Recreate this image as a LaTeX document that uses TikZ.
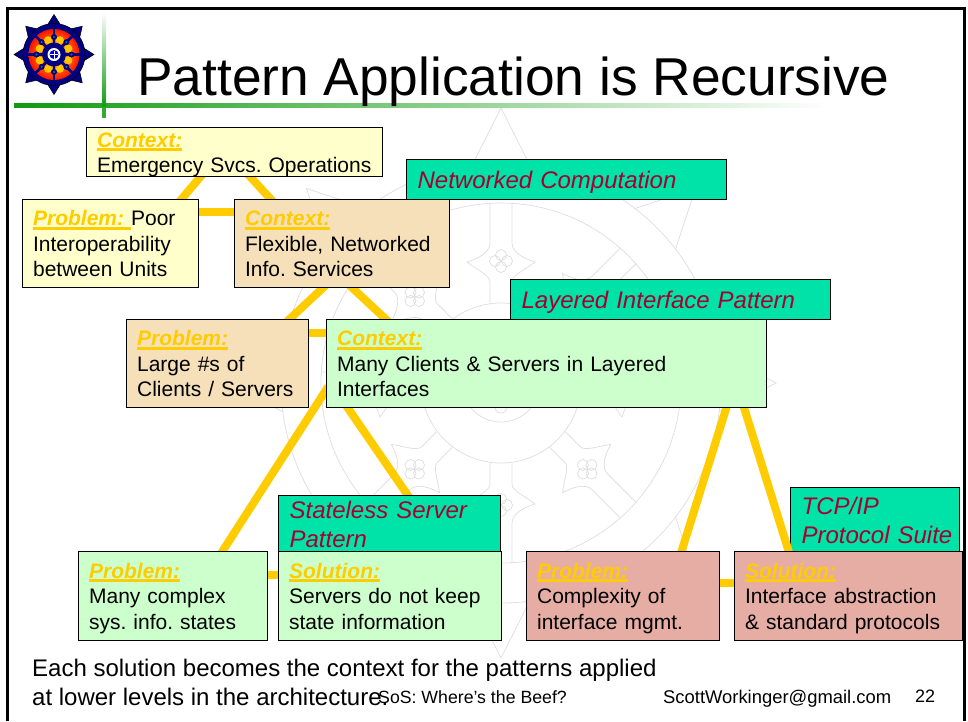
\documentclass[tikz,border=0pt]{standalone}
\usepackage{fontspec}
\setmainfont{Liberation Sans}
\usetikzlibrary{calc}
\pgfdeclarelayer{bg}
\pgfsetlayers{bg,main}
\definecolor{gold}{HTML}{FFCC00}
\definecolor{paleyellow}{HTML}{FFFFCC}
\definecolor{tan}{HTML}{F6E0B9}
\definecolor{palegreen}{HTML}{CCFFCC}
\definecolor{mint}{HTML}{00E3A8}
\definecolor{rose}{HTML}{E6ADA4}
\definecolor{crimson}{HTML}{A5002F}
\definecolor{wm}{HTML}{DEDEDE}
\definecolor{navy}{HTML}{000080}
\definecolor{bargreen}{HTML}{109A10}
\newcommand{\lab}[1]{\setbox0=\hbox{\bfseries\itshape #1}{\color{gold}\rlap{\rule[-4pt]{\wd0}{3pt}}\box0}}
\newcommand{\noflow}[1]{\leavevmode\rlap{#1}}
\tikzset{
  box/.style 2 args={draw=black,line width=1.2pt,anchor=north west,inner xsep=10.5pt,inner ysep=-2pt,
    minimum width=#1pt,minimum height=#2pt,text width={#1pt-21pt},align=left,
    font=\fontsize{21}{25.5}\selectfont\frenchspacing,
    execute at begin node={\rule{0pt}{20.5pt}},execute at end node={\rule[-4.8pt]{0pt}{4.8pt}}},
  tagbox/.style 2 args={draw=black,line width=1.2pt,fill=mint,anchor=north west,inner xsep=11pt,inner ysep=-2pt,
    minimum width=#1pt,minimum height=#2pt,text width={#1pt-22pt},align=left,text=crimson,
    font=\fontsize{24}{29}\selectfont\itshape\frenchspacing,
    execute at begin node={\rule{0pt}{24pt}},execute at end node={\rule[-5pt]{0pt}{5pt}}},
  conn/.style={draw=gold,line width=8pt,shorten <=-4pt,shorten >=-4pt},
  wmline/.style={draw=wm,line width=0.7pt},
  plain/.style={anchor=base west,inner sep=0pt},
}
\begin{document}
\begin{tikzpicture}[x=1pt,y=-1pt]
\useasboundingbox (0,0) rectangle (968,721);
\begin{pgfonlayer}{bg}
\fill[white] (0,0) rectangle (968,721);
% watermark wheel
\begin{scope}[shift={(501,383)}]
  \draw[wmline] (0,0) circle (80);
  \draw[wmline] (0,0) circle (39);
  \draw[wmline] (0,0) circle (180);
  \draw[wmline] (0,0) circle (220);
  \foreach \a in {0,45,...,315}{
    \begin{scope}[rotate=\a]
      \draw[wmline] (7.5:220) -- (275,0) -- (-7.5:220);
      \draw[wmline] (80,-11) -- (101,-11) .. controls (108,-11) and (113,-24) .. (121,-34)
        .. controls (124,-24) and (130,-11) .. (140,-11) -- (180,-11);
      \draw[wmline] (80,11) -- (101,11) .. controls (108,11) and (113,24) .. (121,34)
        .. controls (124,24) and (130,11) .. (140,11) -- (180,11);
      \foreach \dx/\dy in {6/0,-6/0,0/6,0/-6}{
        \draw[wmline] (122+\dx,\dy) circle (5.5);
      }
      \draw[wmline] (24,0) circle (6);
    \end{scope}
  }
\end{scope}
\node[tagbox={169}{64}] (tcp) at (790,487) {TCP/IP\\\noflow{Protocol Suite}};
\end{pgfonlayer}
% title bar
\shade[left color=bargreen,right color=white,shading angle=90] (14,103) rectangle (830,107);
\shade[top color=white,bottom color=bargreen] (102,12) rectangle (106,107);
\fill[bargreen!85!white] (102,107) rectangle (106,118);
% logo
\begin{scope}[shift={(54,54.5)}]
  \foreach \a in {0,45,...,315}{
    \fill[navy,draw=black,line width=0.5pt] (\a+15:29) -- (\a:40) -- (\a-15:29) -- cycle;
  }
  \fill[navy,draw=black,line width=0.5pt] (0,0) circle (31);
  \shade[inner color=yellow!80!orange,middle color=orange,outer color=red!85!orange] (0,0) circle (25.5);
  \foreach \a in {0,45,...,315}{
    \fill[gold!95!orange] (\a+22.5:15.5) circle (4);
    \draw[navy,line width=2.6pt] (\a:10) -- (\a:27);
    \fill[navy] (\a:17.5) circle (3);
    \fill[teal] (\a:17.5) circle (1.2);
  }
  \fill[navy] (0,0) circle (12);
  \fill[white] (0,0) circle (6.5);
  \fill[blue!70!navy] (0,0) circle (4.5);
  \draw[white,line width=0.6pt] (-4,0) -- (4,0) (0,-4) -- (0,4);
\end{scope}
% frame
\draw[black,line width=3pt] (7.5,721) -- (7.5,8.5) -- (964.5,8.5) -- (964.5,721);
% title
\node[plain,font=\fontsize{53.3}{60}\selectfont] (title) at (137,95) {Pattern Application is Recursive};
% pattern boxes
\node[tagbox={320}{40}] (net) at (406,159) {\raisebox{0.5pt}{Networked Computation}};
\node[tagbox={320}{40}] (lay) at (510,279) {\raisebox{0.5pt}{Layered Interface Pattern}};
\node[tagbox={222}{56}] (sta) at (278,495) {Stateless Server\\Pattern};
\node[box={296}{49},fill=paleyellow] (c1) at (86,127) {\lab{Context:}\\\noflow{Emergency Svcs. Operations}};
\node[box={176}{88},fill=paleyellow] (p1) at (22,199) {\lab{Problem:\ }Poor\\Interoperability\\between Units};
\node[box={215}{88},fill=tan] (c2) at (234,199) {\lab{Context:}\\Flexible, Networked\\Info. Services};
\node[box={182}{88},fill=tan] (p2) at (126,319) {\lab{Problem:}\\Large \#s of\\Clients / Servers};
\node[box={440}{88},fill=palegreen] (c3) at (326,319) {\lab{Context:}\\Many Clients \& Servers in Layered\\Interfaces};
\node[box={189}{89},fill=palegreen] (p3) at (78,551) {\lab{Problem:}\\Many complex\\sys. info. states};
\node[box={223}{89},fill=palegreen] (s3) at (278,551) {\lab{Solution:}\\Servers do not keep\\state information};
\node[box={193}{89},fill=rose] (p4) at (526,551) {\lab{Problem:}\\Complexity of\\interface mgmt.};
\node[box={228}{89},fill=rose] (s4) at (734,551) {\lab{Solution:}\\Interface abstraction\\\noflow{\& standard protocols}};
% connectors
\begin{pgfonlayer}{bg}
\draw[conn] ([xshift=-34.5pt]c1.south) -- ([xshift=71pt]p1.north);
\draw[conn] ([xshift=16pt]c1.south) -- ([xshift=-71.5pt]c2.north);
\draw[conn] ([yshift=-13pt]p1.north east) -- ([yshift=-13pt]c2.north west);
\draw[conn] ([xshift=-19.5pt]c2.south) -- ([xshift=72pt]p2.north);
\draw[conn] ([xshift=10.5pt]c2.south) -- ([xshift=-161pt]c3.north);
\draw[conn] ([yshift=-14pt]p2.north east) -- ([yshift=-14pt]c3.north west);
\draw[conn] ([yshift=-71pt]c3.north west) -- ([xshift=49.5pt]p3.north);
\draw[conn] ([xshift=22pt]c3.south west) -- ([xshift=18pt]sta.north);
\draw[conn] ([yshift=-24pt]p3.north east) -- ([yshift=-24pt]s3.north west);
\draw[conn] ([xshift=-41pt]c3.south east) -- ([xshift=58.5pt]p4.north);
\draw[conn] ([xshift=-23pt]c3.south east) -- ([xshift=-60pt]s4.north);
\draw[conn] ([yshift=-32pt]p4.north east) -- ([yshift=-32pt]s4.north west);
\end{pgfonlayer}
% bottom text
\node[plain,font=\fontsize{24}{29}\selectfont] (note1) at (32,676) {Each solution becomes the context for the patterns applied};
\node[plain,font=\fontsize{24}{29}\selectfont] (note2) at (32,705) {at lower levels in the architecture.};
\node[plain,font=\fontsize{17.7}{20}\selectfont] (foot1) at (378,703) {SoS: Where's the Beef?};
\node[plain,font=\fontsize{18.4}{20}\selectfont] (foot2) at (663,703) {ScottWorkinger@gmail.com};
\node[plain,font=\fontsize{18}{20}\selectfont] (foot3) at (915,702) {22};
\end{tikzpicture}
\end{document}
